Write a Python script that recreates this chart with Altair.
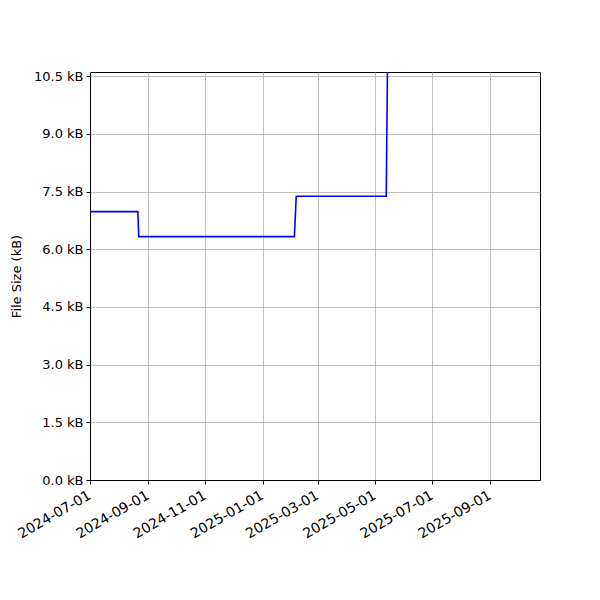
import altair as alt
import pandas as pd

dates = ["2024-07-01", "2024-08-21", "2024-08-22", "2025-02-04", "2025-02-06", "2025-05-13", "2025-05-15"]
sizes_kb = [6.98, 6.98, 6.33, 6.33, 7.38, 7.38, 12.5]
y_ticks = [0.0, 1.5, 3.0, 4.5, 6.0, 7.5, 9.0, 10.5]
x_ticks = ["2024-07-01", "2024-09-01", "2024-11-01", "2025-01-01", "2025-03-01", "2025-05-01", "2025-07-01", "2025-09-01"]

df = pd.DataFrame({"date": pd.to_datetime(dates), "size": sizes_kb})

x_tick_vals = [alt.DateTime(year=int(d[:4]), month=int(d[5:7]), date=int(d[8:10])) for d in x_ticks]

FONT = "DejaVu Sans"

chart = alt.Chart(df).mark_line(color="#0000ff", strokeWidth=1.6, clip=True).encode(
    x=alt.X("date:T",
            scale=alt.Scale(domain=[alt.DateTime(year=2024, month=7, date=1),
                                    alt.DateTime(year=2025, month=10, date=24)], nice=False),
            axis=alt.Axis(values=x_tick_vals, format="%Y-%m-%d", labelAngle=-30,
                          labelAlign="right", labelBaseline="top", title=None,
                          labelOverlap=False, labelOffset=-4,
                          labelFont=FONT, labelFontSize=14, labelColor="black",
                          tickColor="black", tickSize=4, labelPadding=4,
                          domainColor="black", gridColor="#b0b0b0", gridWidth=0.8)),
    y=alt.Y("size:Q",
            scale=alt.Scale(domain=[0, 10.61], nice=False, zero=False),
            axis=alt.Axis(values=y_ticks, labelExpr="format(datum.value, '.1f') + ' kB'",
                          title="File Size (kB)", titleFont=FONT, titleFontSize=13,
                          titleFontWeight="normal", titleColor="black", titlePadding=10,
                          labelFont=FONT, labelFontSize=13, labelColor="black",
                          tickColor="black", tickSize=4, labelPadding=3,
                          domainColor="black", gridColor="#b0b0b0", gridWidth=0.8)),
).properties(
    width=450, height=408,
    autosize=alt.AutoSizeParams(type="none"),
    padding={"left": 82, "top": 64, "right": 52, "bottom": 112},
).configure_view(stroke="black", strokeWidth=1)

chart.save("out.html", embed_options={"renderer": "svg", "actions": False})
